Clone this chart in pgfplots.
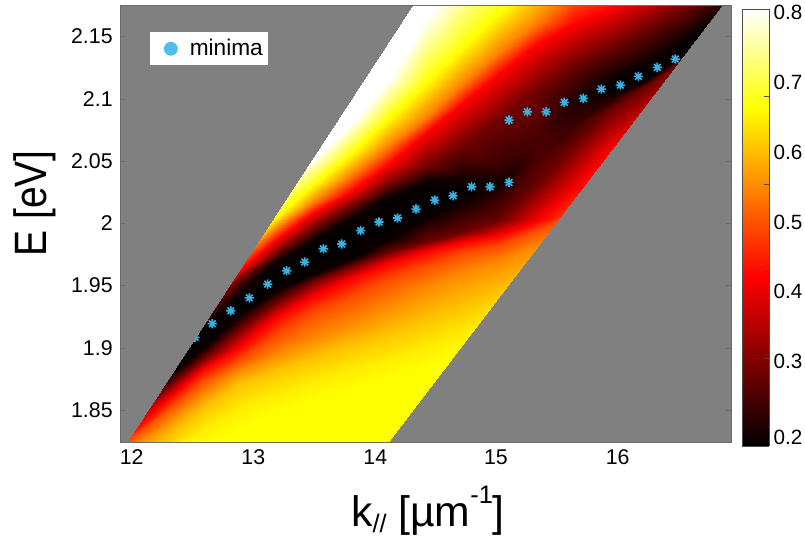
\documentclass[border=0pt]{standalone}
\usepackage{fontspec}
\setmainfont{Liberation Sans}
\usepackage{pgfplots}
\pgfplotsset{compat=1.18}
\definecolor{bggray}{gray}{0.5}
\definecolor{axgray}{gray}{0.42}
\definecolor{starblue}{RGB}{58,176,226}
\definecolor{dotblue}{RGB}{78,190,240}
\pgfdeclareplotmark{ast8}{%
\pgfpathmoveto{\pgfqpoint{\pgfplotmarksize}{0pt}}\pgfpathlineto{\pgfpoint{-\pgfplotmarksize}{0pt}}%
\pgfpathmoveto{\pgfqpoint{0pt}{\pgfplotmarksize}}\pgfpathlineto{\pgfpoint{0pt}{-\pgfplotmarksize}}%
\pgfpathmoveto{\pgfpoint{0.72\pgfplotmarksize}{0.72\pgfplotmarksize}}\pgfpathlineto{\pgfpoint{-0.72\pgfplotmarksize}{-0.72\pgfplotmarksize}}%
\pgfpathmoveto{\pgfpoint{0.72\pgfplotmarksize}{-0.72\pgfplotmarksize}}\pgfpathlineto{\pgfpoint{-0.72\pgfplotmarksize}{0.72\pgfplotmarksize}}%
\pgfusepathqstroke}
\pgfplotsset{colormap={hotm}{rgb255(0cm)=(0,0,0); rgb255(3.875cm)=(255,0,0); rgb255(7.75cm)=(255,255,0); rgb255(10cm)=(255,255,255)}}
\begin{document}
\begin{tikzpicture}
\path[use as bounding box] (0pt,0pt) rectangle (603.75pt,403.5pt);
\begin{axis}[
  at={(90pt,71.475pt)},anchor=south west,
  scale only axis,width=458.775pt,height=328.05pt,
  view={0}{90},
  xmin=11.941,xmax=16.874,ymin=1.8238,ymax=2.1752,
  colormap name=hotm,point meta min=0.2,point meta max=0.8,
  axis background/.style={fill=bggray},
  axis line style={axgray,line width=0.6pt},
  tick style={axgray,line width=0.4pt},
  major tick length=4pt,
  xtick={12.035,13.016,14,14.973,15.955},
  xticklabels={12,13,14,15,16},
  x tick style={draw=none},
  extra x ticks={12,13,14,15,16},
  extra x tick labels={},
  extra x tick style={tick style={axgray,line width=0.4pt}},
  ytick={1.85,1.9,1.95,2,2.05,2.1,2.15},
  yticklabels={1.85,1.9,1.95,2,2.05,2.1,2.15},
  ztick=\empty,
  tick label style={font=\fontsize{16}{18}\selectfont},
  xticklabel style={yshift=-2pt},
  yticklabel style={xshift=-2pt},
  clip marker paths=true,
  legend style={at={(0.049,0.939)},anchor=north west,draw=none,fill=white,
    inner xsep=2pt,inner ysep=3.5pt,font=\fontsize{17}{18}\selectfont,
    legend cell align=left},
  legend image code/.code={\path[draw=none,fill=none] (0.28cm-13.45pt,0cm) -- (0.28cm,0cm);\fill[dotblue,draw=none] (0.28cm,0cm) circle (5.2pt);},
]
\begin{scope}
\clip (axis cs:12,1.8238) -- (axis cs:14.102,1.8238) -- (axis cs:16.796,2.1752) -- (axis cs:14.304,2.1752) -- cycle;
\addplot3[surf,shader=interp,mesh/rows=17,forget plot] coordinates {
(12,1.75,.665)(12.3,1.75,.665)(12.6,1.75,.665)(12.9,1.75,.665)(13.2,1.75,.665)(13.5,1.75,.665)(13.8,1.75,.665)(14.1,1.75,.665)(14.4,1.75,.665)(14.7,1.75,.665)(15,1.75,.665)(15.3,1.75,.665)(15.6,1.75,.665)(15.9,1.75,.665)(16.2,1.75,.665)(16.5,1.75,.665)(16.8,1.75,.665)
(12,1.795,.665)(12.3,1.808,.665)(12.6,1.821,.665)(12.9,1.834,.665)(13.2,1.848,.665)(13.5,1.857,.665)(13.8,1.866,.665)(14.1,1.875,.665)(14.4,1.885,.665)(14.7,1.896,.665)(15,1.91,.665)(15.3,1.925,.665)(15.6,1.94,.665)(15.9,1.955,.665)(16.2,1.97,.665)(16.5,1.985,.665)(16.8,2.0,.665)
(12,1.80,.65)(12.3,1.816,.65)(12.6,1.833,.65)(12.9,1.851,.65)(13.2,1.861,.65)(13.5,1.872,.65)(13.8,1.881,.65)(14.1,1.89,.65)(14.4,1.899,.65)(14.7,1.91,.65)(15,1.925,.65)(15.3,1.94,.65)(15.6,1.955,.65)(15.9,1.97,.65)(16.2,1.985,.65)(16.5,2.0,.65)(16.8,2.015,.65)
(12,1.804,.61)(12.3,1.827,.61)(12.6,1.851,.61)(12.9,1.871,.61)(13.2,1.882,.61)(13.5,1.892,.61)(13.8,1.902,.61)(14.1,1.912,.61)(14.4,1.922,.61)(14.7,1.934,.61)(15,1.946,.61)(15.3,1.96,.61)(15.6,1.975,.61)(15.9,1.99,.61)(16.2,2.005,.61)(16.5,2.02,.61)(16.8,2.035,.61)
(12,1.817,.56)(12.3,1.839,.56)(12.6,1.862,.56)(12.9,1.881,.56)(13.2,1.894,.56)(13.5,1.907,.56)(13.8,1.919,.56)(14.1,1.933,.56)(14.4,1.947,.56)(14.7,1.959,.56)(15,1.968,.56)(15.3,1.982,.56)(15.6,1.995,.56)(15.9,2.01,.56)(16.2,2.025,.56)(16.5,2.04,.56)(16.8,2.055,.56)
(12,1.825,.5)(12.3,1.849,.5)(12.6,1.873,.5)(12.9,1.89,.5)(13.2,1.91,.5)(13.5,1.929,.5)(13.8,1.942,.5)(14.1,1.955,.5)(14.4,1.966,.5)(14.7,1.976,.5)(15,1.983,.5)(15.3,1.995,.5)(15.6,2.008,.5)(15.9,2.023,.5)(16.2,2.038,.5)(16.5,2.053,.5)(16.8,2.068,.5)
(12,1.83,.43)(12.3,1.857,.43)(12.6,1.882,.43)(12.9,1.901,.43)(13.2,1.925,.43)(13.5,1.942,.43)(13.8,1.956,.43)(14.1,1.968,.43)(14.4,1.978,.43)(14.7,1.985,.43)(15,1.991,.43)(15.3,2.002,.43)(15.6,2.028,.43)(15.9,2.06,.43)(16.2,2.08,.43)(16.5,2.10,.43)(16.8,2.12,.43)
(12,1.845,.3)(12.3,1.868,.3)(12.6,1.891,.3)(12.9,1.915,.3)(13.2,1.937,.3)(13.5,1.954,.3)(13.8,1.966,.3)(14.1,1.977,.3)(14.4,1.985,.3)(14.7,1.993,.3)(15,2.003,.3)(15.3,2.031,.3)(15.6,2.063,.3)(15.9,2.091,.3)(16.2,2.111,.3)(16.5,2.132,.3)(16.8,2.155,.3)
(12,1.853,.21)(12.3,1.876,.21)(12.6,1.899,.21)(12.9,1.926,.21)(13.2,1.946,.21)(13.5,1.959,.21)(13.8,1.971,.21)(14.1,1.987,.21)(14.4,2.004,.21)(14.7,2.018,.21)(15,2.028,.23)(15.3,2.05,.27)(15.6,2.08,.25)(15.9,2.10,.23)(16.2,2.116,.21)(16.5,2.137,.21)(16.8,2.16,.21)
(12,1.868,.2)(12.3,1.888,.2)(12.6,1.912,.2)(12.9,1.934,.2)(13.2,1.956,.2)(13.5,1.975,.2)(13.8,1.99,.2)(14.1,2.002,.2)(14.4,2.015,.2)(14.7,2.026,.2)(15,2.032,.21)(15.3,2.065,.27)(15.6,2.097,.23)(15.9,2.108,.2)(16.2,2.121,.2)(16.5,2.139,.2)(16.8,2.162,.2)
(12,1.875,.21)(12.3,1.895,.21)(12.6,1.915,.21)(12.9,1.944,.21)(13.2,1.969,.21)(13.5,1.987,.21)(13.8,2.004,.21)(14.1,2.021,.21)(14.4,2.033,.21)(14.7,2.04,.23)(15,2.045,.25)(15.3,2.072,.27)(15.6,2.105,.24)(15.9,2.116,.21)(16.2,2.13,.21)(16.5,2.148,.21)(16.8,2.17,.21)
(12,1.88,.3)(12.3,1.90,.3)(12.6,1.926,.3)(12.9,1.955,.3)(13.2,1.976,.3)(13.5,1.996,.3)(13.8,2.014,.3)(14.1,2.031,.3)(14.4,2.045,.3)(14.7,2.062,.3)(15,2.082,.3)(15.3,2.106,.3)(15.6,2.127,.3)(15.9,2.142,.3)(16.2,2.158,.3)(16.5,2.173,.3)(16.8,2.19,.3)
(12,1.888,.43)(12.3,1.91,.43)(12.6,1.935,.43)(12.9,1.962,.43)(13.2,1.987,.43)(13.5,2.008,.43)(13.8,2.025,.43)(14.1,2.047,.43)(14.4,2.072,.43)(14.7,2.096,.43)(15,2.12,.43)(15.3,2.143,.43)(15.6,2.16,.43)(15.9,2.172,.43)(16.2,2.187,.43)(16.5,2.20,.43)(16.8,2.215,.43)
(12,1.892,.55)(12.3,1.918,.55)(12.6,1.945,.55)(12.9,1.972,.55)(13.2,1.996,.55)(13.5,2.017,.55)(13.8,2.039,.55)(14.1,2.062,.55)(14.4,2.085,.55)(14.7,2.112,.55)(15,2.138,.55)(15.3,2.162,.55)(15.6,2.19,.55)(15.9,2.21,.55)(16.2,2.23,.55)(16.5,2.25,.55)(16.8,2.27,.55)
(12,1.90,.665)(12.3,1.93,.665)(12.6,1.958,.665)(12.9,1.98,.665)(13.2,2.005,.665)(13.5,2.031,.665)(13.8,2.056,.665)(14.1,2.084,.665)(14.4,2.112,.665)(14.7,2.141,.665)(15,2.169,.665)(15.3,2.198,.665)(15.6,2.23,.665)(15.9,2.25,.665)(16.2,2.27,.665)(16.5,2.29,.665)(16.8,2.31,.665)
(12,1.92,.8)(12.3,1.95,.8)(12.6,1.98,.8)(12.9,2.005,.8)(13.2,2.03,.8)(13.5,2.052,.8)(13.8,2.081,.8)(14.1,2.114,.8)(14.4,2.163,.8)(14.7,2.20,.8)(15,2.225,.8)(15.3,2.25,.8)(15.6,2.27,.8)(15.9,2.29,.8)(16.2,2.31,.8)(16.5,2.33,.8)(16.8,2.35,.8)
(12,2.40,.8)(12.3,2.40,.8)(12.6,2.40,.8)(12.9,2.40,.8)(13.2,2.40,.8)(13.5,2.40,.8)(13.8,2.40,.8)(14.1,2.40,.8)(14.4,2.40,.8)(14.7,2.40,.8)(15,2.40,.8)(15.3,2.40,.8)(15.6,2.40,.8)(15.9,2.40,.8)(16.2,2.40,.8)(16.5,2.40,.8)(16.8,2.40,.8)
};
\addplot3[only marks,mark=ast8,mark size=3.5pt,starblue,line width=1.2pt,forget plot] coordinates {
(12.546,1.9084,.5)(12.685,1.9194,.5)(12.834,1.9298,.5)(12.984,1.9402,.5)(13.132,1.9512,.5)(13.285,1.9619,.5)(13.431,1.9689,.5)(13.581,1.9796,.5)(13.729,1.9834,.5)(13.882,1.9942,.5)(14.030,2.0011,.5)(14.179,2.0043,.5)(14.328,2.0115,.5)(14.479,2.0187,.5)(14.627,2.0222,.5)(14.777,2.0294,.5)(14.925,2.0294,.5)(15.078,2.0329,.5)
(15.078,2.0830,.5)(15.226,2.0896,.5)(15.377,2.0896,.5)(15.524,2.0972,.5)(15.677,2.1004,.5)(15.823,2.1079,.5)(15.976,2.1111,.5)(16.121,2.1181,.5)(16.274,2.1253,.5)(16.419,2.1320,.5)
};
\end{scope}
\addlegendimage{dotblue}
\addlegendentry{\hspace{7pt}minima\hspace{24pt}}
\end{axis}
\begin{axis}[
  at={(556.5pt,69pt)},anchor=south west,
  scale only axis,width=20.25pt,height=327.5pt,
  view={0}{90},
  xmin=0,xmax=1,ymin=0.2,ymax=0.8,
  colormap name=hotm,point meta min=0.2,point meta max=0.8,
  axis line style={black!70,line width=0.7pt},
  xtick=\empty,ztick=\empty,
  ytick pos=right,
  ytick={.2124,.3168,.413,.5078,.604,.7001,.7963},
  yticklabels={0.2,0.3,0.4,0.5,0.6,0.7,0.8},
  major tick length=0pt,
  extra y ticks={.32,.44,.56,.68},
  extra y tick labels={},
  extra y tick style={major tick length=3.5pt,tick style={black!70,line width=0.4pt}},
  tick label style={font=\fontsize{15.5}{18}\selectfont},
]
\addplot3[surf,shader=interp,mesh/rows=4] coordinates {
(0,.2,.2)(1,.2,.2)
(0,.4325,.4325)(1,.4325,.4325)
(0,.665,.665)(1,.665,.665)
(0,.8,.8)(1,.8,.8)
};
\end{axis}
\node[rotate=90,inner sep=0pt,anchor=center] at (26pt,{(538-203.5)*0.75pt}) {\scalebox{0.86}[1]{\fontsize{34}{40}\selectfont E [eV]}};
\node[inner sep=0pt,anchor=base] at (321pt,{(538-526)*0.75pt}) {\fontsize{32}{38}\selectfont k\raisebox{-0.3ex}{\fontsize{19}{20}\selectfont //} [µm\raisebox{1.0ex}{\fontsize{19}{20}\selectfont -1}]};
\end{tikzpicture}
\end{document}
